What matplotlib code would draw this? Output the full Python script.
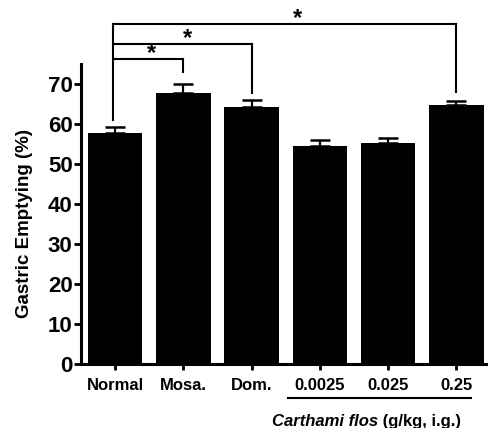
"""Gastric emptying bar chart with significance brackets."""
import matplotlib

matplotlib.use("Agg")
import matplotlib.pyplot as plt
from matplotlib.transforms import blended_transform_factory

GROUPS = ["Normal", "Mosa.", "Dom.", "0.0025", "0.025", "0.25"]
MEANS = [57.7, 67.7, 64.2, 54.5, 55.3, 64.7]
SEMS = [1.5, 2.2, 1.8, 1.5, 1.3, 1.1]
YTICKS = [0, 10, 20, 30, 40, 50, 60, 70]

# (left group, right group, bracket height, left drop end, right drop end)
BRACKETS = [
    (0, 5, 85.0, 61.0, 68.0),
    (0, 2, 80.0, None, 67.7),
    (0, 1, 76.25, None, 73.0),
]
STAR_DX = [0.18, 0.06, 0.04]
DOSE_GROUPS = [3, 5]

plt.rcParams["font.family"] = ["Liberation Sans", "DejaVu Sans"]
plt.rcParams["font.weight"] = "bold"

fig = plt.figure(figsize=(4.89, 4.28), dpi=100)
ax = fig.add_axes([81 / 489, 64 / 428, 406 / 489, 300 / 428])

x = list(range(len(GROUPS)))
ax.bar(x, MEANS, width=0.8, color="black", zorder=2)
ax.errorbar(x, MEANS, yerr=[[0] * len(SEMS), SEMS], fmt="none", ecolor="black",
            elinewidth=1.6, capsize=7, capthick=1.8, zorder=1)

ax.set_xlim(-0.5, 5.45)
ax.set_ylim(0, 75)
ax.set_yticks(YTICKS)
ax.set_xticks(x)
ax.set_xticklabels(GROUPS, fontsize=12, fontweight="bold")
ax.tick_params(axis="y", labelsize=16, width=2, length=5, pad=1)
ax.tick_params(axis="x", width=2, length=4, pad=6)
for s in ("top", "right"):
    ax.spines[s].set_visible(False)
for s in ("left", "bottom"):
    ax.spines[s].set_linewidth(2.2)
ax.set_ylabel("Gastric Emptying (%)", fontsize=13.5, fontweight="bold")
ax.yaxis.set_label_coords(-0.118, 0.467)

# significance brackets
lw = 1.5
for (a, b, h, ldrop, rdrop), dx in zip(BRACKETS, STAR_DX):
    xa = a - 0.03
    ax.plot([xa, b], [h, h], color="black", lw=lw, clip_on=False)
    ax.plot([b, b], [h, rdrop], color="black", lw=lw, clip_on=False)
    if ldrop is not None:
        ax.plot([xa, xa], [h, ldrop], color="black", lw=lw, clip_on=False)
    ax.text((a + b) / 2 + dx, h - 0.3, "*", fontsize=17, fontweight="bold",
            ha="center", va="baseline", clip_on=False)

# dose group underline + label
tr = blended_transform_factory(ax.transData, ax.transAxes)
ax.plot([DOSE_GROUPS[0] - 0.46, DOSE_GROUPS[1] + 0.22], [-0.113, -0.113],
        color="black", lw=1.5, transform=tr, clip_on=False)
t1 = ax.text(2.3, -0.193, "Carthami flos", transform=tr, fontsize=12,
             fontweight="bold", style="italic", ha="left", va="center")
ax.annotate(" (g/kg, i.g.)", xy=(1, 0.5), xycoords=t1, fontsize=12,
            fontweight="bold", ha="left", va="center")

fig.savefig("out.png", dpi=100)
